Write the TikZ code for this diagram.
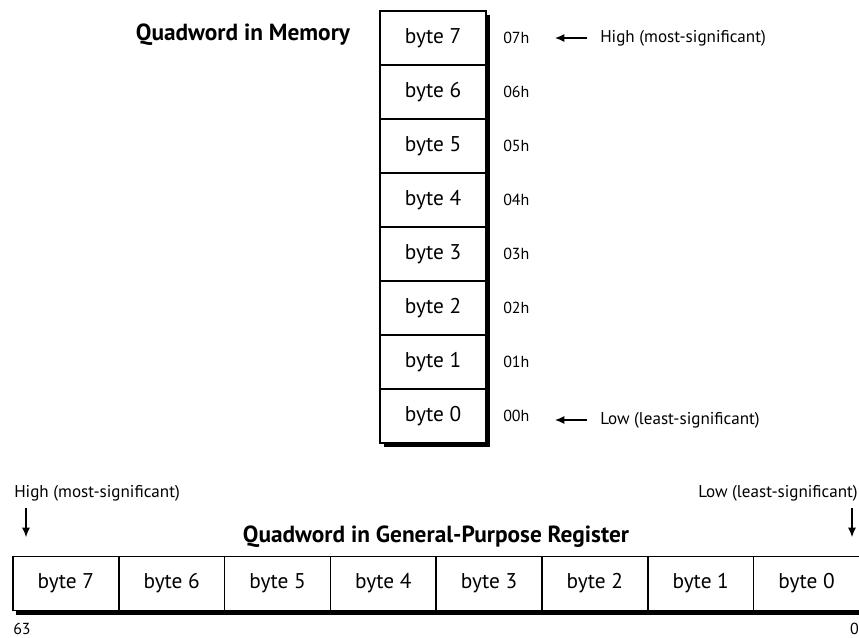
\documentclass[tikz,border=0pt]{standalone}
\usepackage{fontspec}
\setmainfont{PT Sans}
\usetikzlibrary{positioning,arrows.meta}

\tikzset{
  cellbox/.style={draw, fill=white, line width=1.1pt, inner sep=0pt, outer sep=0pt,
    minimum width=79.5pt, minimum height=40.5pt, font=\fontsize{16}{18}\selectfont},
  regbox/.style={cellbox, minimum width=79.35pt},
  addr/.style={anchor=west, inner sep=0pt, font=\fontsize{12}{14}\selectfont},
  note/.style={inner sep=0pt, font=\fontsize{12.8}{14}\selectfont},
  heading/.style={inner sep=0pt, font=\bfseries\fontsize{17.5}{20}\selectfont},
  pointer/.style={-{Latex[length=7pt,width=6pt]}, line width=0.8pt}
}

\begin{document}
\begin{tikzpicture}[x=0.75pt, y=-0.75pt]
  \useasboundingbox (0,0) rectangle (859,638);

  % memory column
  \fill (384,15) rectangle (490,447);
  \foreach \i in {0,...,7} {
    \node[cellbox] (m\i) at (433,{11+54*(7-\i)+27}) {byte \i};
    \node[addr] (a\i) at (503,{11+54*(7-\i)+27}) {0\i h};
  }
  \node[heading] (memtitle) at (243,35) {Quadword in Memory};

  \node[note, anchor=west] (mhigh) at (600,38) {High (most-significant)};
  \coordinate (mhightip) at (555,38);
  \coordinate (mhightail) at (587,38);
  \draw[pointer] (mhightail) -- (mhightip);

  \node[note, anchor=west] (mlow) at (600,420) {Low (least-significant)};
  \coordinate (mlowtip) at (555,420);
  \coordinate (mlowtail) at (587,420);
  \draw[pointer] (mlowtail) -- (mlowtip);

  % register row
  \fill (16,560) rectangle (862,615);
  \foreach \i in {0,...,7} {
    \node[regbox] (r\i) at ({13+105.8*(7-\i)+52.9},583.5) {byte \i};
  }
  \node[heading] (regtitle) at (436,537) {Quadword in General-Purpose Register};

  \node[note, anchor=west] (rhigh) at (14,493) {High (most-significant)};
  \coordinate (rhightail) at (26,508);
  \coordinate (rhightip) at (26,537);
  \draw[pointer] (rhightail) -- (rhightip);

  \node[note, anchor=east] (rlow) at (858,493) {Low (least-significant)};
  \coordinate (rlowtail) at (852,508);
  \coordinate (rlowtip) at (852,537);
  \draw[pointer] (rlowtail) -- (rlowtip);

  \node[addr] (b63) at (13,629) {63};
  \node[addr, anchor=east] (b0) at (859,629) {0};
\end{tikzpicture}
\end{document}
